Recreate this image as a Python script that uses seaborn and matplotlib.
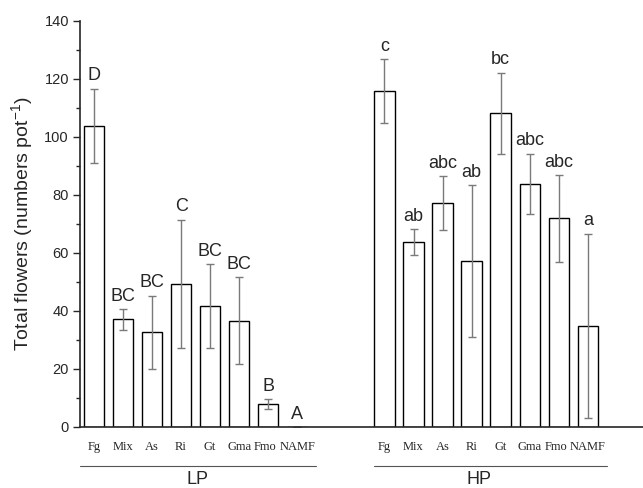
import pandas as pd
import matplotlib
matplotlib.use('Agg')
import matplotlib.pyplot as plt
import matplotlib.ticker as mticker
import seaborn as sns

# dados
tratamentos = ['Fg', 'Mix', 'As', 'Ri', 'Gt', 'Gma', 'Fmo', 'NAMF']
posicoes_lp = [0, 1, 2, 3, 4, 5, 6, 7]
posicoes_hp = [10, 11, 12, 13, 14, 15, 16, 17]

media_lp = [103.8, 37.1, 32.6, 49.4, 41.6, 36.7, 7.9, 0.0]
erro_lp = [12.9, 3.5, 12.7, 22.1, 14.5, 15.0, 1.6, 0.0]
letras_lp = ['D', 'BC', 'BC', 'C', 'BC', 'BC', 'B', 'A']

media_hp = [116.0, 63.7, 77.2, 57.2, 108.2, 83.9, 71.9, 34.9]
erro_hp = [11.0, 4.5, 9.2, 26.3, 14.0, 10.4, 15.0, 31.8]
letras_hp = ['c', 'ab', 'abc', 'ab', 'bc', 'abc', 'abc', 'a']

df = pd.DataFrame({
    'pos': posicoes_lp + posicoes_hp,
    'trat': tratamentos + tratamentos,
    'media': media_lp + media_hp,
    'erro': erro_lp + erro_hp,
    'letra': letras_lp + letras_hp,
})

sns.set_style('ticks')
plt.rcParams['font.family'] = ['Liberation Sans', 'DejaVu Sans']
plt.rcParams['mathtext.fontset'] = 'custom'
plt.rcParams['mathtext.rm'] = 'Liberation Sans'

fig = plt.figure(figsize=(6.43, 4.88), dpi=100)
ax = fig.add_axes([80 / 643, 61 / 488, 1 - 80 / 643, (427 - 21) / 488])

sns.barplot(data=df, x='pos', y='media', native_scale=True, width=0.7,
            color='white', edgecolor='black', linewidth=1.0, ax=ax, errorbar=None)

ax.errorbar(df['pos'], df['media'], yerr=df['erro'], fmt='none',
            ecolor='#7a7a7a', elinewidth=1.0, capsize=3, capthick=1.0)

# letras de significância
for _, r in df.iterrows():
    ax.annotate(r['letra'], (r['pos'], r['media'] + r['erro']),
                xytext=(0, 3), textcoords='offset points',
                ha='center', va='bottom', fontsize=13)

ax.set_xlim(-0.48, 18.9)
ax.set_ylim(0, 140)
ax.yaxis.set_major_locator(mticker.MultipleLocator(20))
ax.yaxis.set_minor_locator(mticker.MultipleLocator(10))
ax.tick_params(axis='y', which='major', length=5, width=1, labelsize=10.5, pad=3)
ax.tick_params(axis='y', which='minor', length=3, width=1)

# rótulo "Fmo" levemente à esquerda, como no original
pos_rotulos = [p - 0.1 if t == 'Fmo' else p for p, t in zip(df['pos'], df['trat'])]
ax.set_xticks(pos_rotulos)
ax.set_xticklabels(df['trat'], family=['Liberation Serif'], fontsize=9)
ax.tick_params(axis='x', length=0, pad=10)

ax.set_xlabel('')
ax.set_ylabel('Total flowers (numbers pot$^{\\mathrm{-1}}$)', fontsize=14, labelpad=6)

sns.despine(ax=ax)
for s in ['left', 'bottom']:
    ax.spines[s].set_linewidth(1.2)

# linhas e rótulos dos grupos
trans = ax.get_xaxis_transform()
ax.plot([-0.48, 7.65], [-0.096, -0.096], color='#555555', lw=0.8,
        transform=trans, clip_on=False)
ax.plot([9.65, 17.65], [-0.096, -0.096], color='#555555', lw=0.8,
        transform=trans, clip_on=False)
ax.text(3.55, -0.13, 'LP', transform=trans, ha='center', va='center', fontsize=13)
ax.text(13.25, -0.13, 'HP', transform=trans, ha='center', va='center', fontsize=13)

fig.savefig('out.png', dpi=100)
